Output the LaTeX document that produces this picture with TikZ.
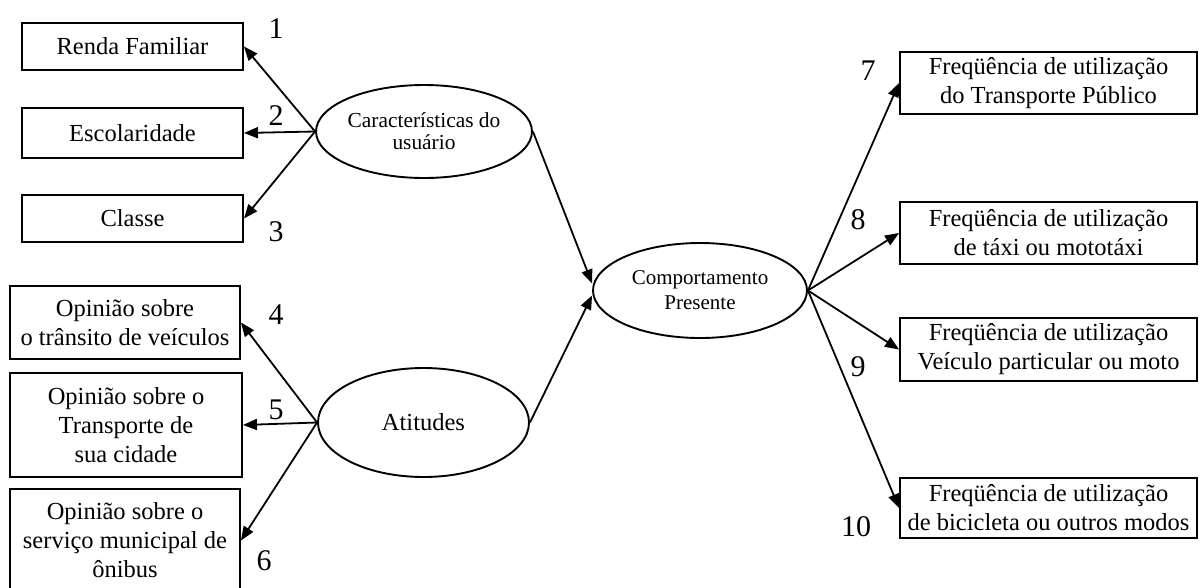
\documentclass[tikz,border=0pt]{standalone}
\usepackage{fontspec}
\setmainfont{Liberation Serif}
\usetikzlibrary{arrows.meta,shapes.geometric}
\begin{document}
\begin{tikzpicture}[x=1pt,y=-1pt,
  box/.style={draw,line width=1.9pt,rectangle,inner sep=0pt,align=center,
    font=\fontsize{24.5}{29}\selectfont},
  latent/.style={draw,line width=1.9pt,ellipse,inner sep=0pt,align=center},
  link/.style={line width=1.8pt,-{Triangle[length=14pt,width=11pt]}},
  num/.style={inner sep=0pt,font=\fontsize{30}{30}\selectfont}]
\useasboundingbox (0,0) rectangle (1199,587);
\clip (0,0) rectangle (1199,587);

% observed variables, left
\node[box,minimum width=221pt,minimum height=47pt] (renda) at (132.5,46.5) {Renda Familiar};
\node[box,minimum width=221pt,minimum height=50pt] (escol) at (132.5,133) {Escolaridade};
\node[box,minimum width=221pt,minimum height=47pt] (classe) at (132.5,218.5) {Classe};
\node[box,minimum width=230pt,minimum height=73pt] (transito) at (125,322.5) {Opinião sobre\\o trânsito de veículos};
\node[box,minimum width=232pt,minimum height=104pt] (transp) at (126,425) {Opinião sobre o\\Transporte de\\sua cidade};
\node[box,minimum width=230pt,minimum height=103pt] (onibus) at (125,540.5) {Opinião sobre o\\serviço municipal de\\ônibus};

% latent constructs
\node[latent,minimum width=212pt,minimum height=93pt,font=\fontsize{21.4}{22}\selectfont] (carac) at (424,131.5) {Características do\\usuário};
\node[latent,minimum width=211pt,minimum height=109pt,font=\fontsize{24.5}{29}\selectfont] (atit) at (423.5,422.5) {Atitudes};
\node[latent,minimum width=214pt,minimum height=95pt,font=\fontsize{21}{25}\selectfont] (comp) at (700,290.5) {Comportamento\\Presente};

% observed variables, right
\node[box,minimum width=297pt,minimum height=62pt] (tp) at (1048.5,83) {Freqüência de utilização\\do Transporte Público};
\node[box,minimum width=297pt,minimum height=62pt] (taxi) at (1048.5,233) {Freqüência de utilização\\de táxi ou mototáxi};
\node[box,minimum width=297pt,minimum height=63pt] (veic) at (1048.5,349.5) {Freqüência de utilização\\Veículo particular ou moto};
\node[box,minimum width=297pt,minimum height=60pt] (bici) at (1048.5,508) {Freqüência de utilização\\de bicicleta ou outros modos};

% paths
\draw[link] (carac.west) -- (renda.east);
\draw[link] (carac.west) -- (escol.east);
\draw[link] (carac.west) -- (classe.east);
\draw[link] (atit.west) -- (transito.east);
\draw[link] (atit.west) -- (transp.east);
\draw[link] (atit.west) -- (onibus.east);
\draw[link] (carac.east) -- ([yshift=7pt]comp.west);
\draw[link] (atit.east) -- ([yshift=-5pt]comp.west);
\draw[link] (comp.east) -- (tp.west);
\draw[link] (comp.east) -- (taxi.west);
\draw[link] (comp.east) -- (veic.west);
\draw[link] (comp.east) -- (bici.west);

% path numbers
\node[num] (n1) at (276,29) {1};
\node[num] (n2) at (276,116) {2};
\node[num] (n3) at (276,232) {3};
\node[num] (n4) at (276,315) {4};
\node[num] (n5) at (276,410) {5};
\node[num] (n6) at (264,561) {6};
\node[num] (n7) at (868,71) {7};
\node[num] (n8) at (858,220) {8};
\node[num] (n9) at (858,367) {9};
\node[num] (n10) at (856,527) {10};
\end{tikzpicture}
\end{document}
